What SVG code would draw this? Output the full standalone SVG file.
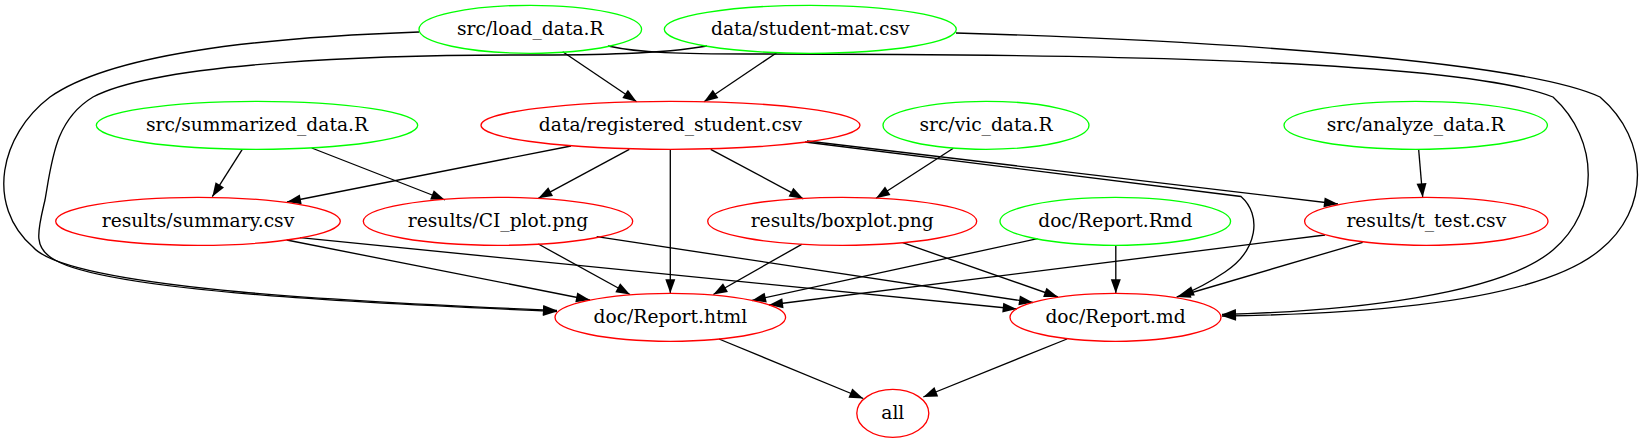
<svg xmlns="http://www.w3.org/2000/svg" width="1641" height="443" viewBox="0 0 1641 443">
<style>
.n ellipse{fill:none;stroke-width:1.33}
.g ellipse{stroke:#00ff00}
.r ellipse{stroke:#ff0000}
.n text{font-family:"DejaVu Serif",serif;font-size:18.67px;text-anchor:middle;fill:#000}
#edges path{fill:none;stroke:#000;stroke-width:1.33;marker-end:url(#arr)}
</style>
<defs>
<marker id="arr" markerWidth="16" markerHeight="12" refX="14" refY="5" orient="auto" markerUnits="userSpaceOnUse" overflow="visible">
<path d="M0,0 L14,5 L0,10 z" fill="#000"/>
</marker>
</defs>
<rect width="1641" height="443" fill="#fff"/>
<g id="edges">
<path d="M562.7,51.7 L636.7,101.7"/>
<path d="M776.7,52.7 L704,101.7"/>
<path d="M419,32 C250,38 110,55 50,97 C0,135 -15,205 33,247 C70,290 380,303 557,310.5"/>
<path d="M707,46 C660,54 600,55 520,55 C380,55 160,62 93,97 C55,120 52,160 45,200 C38,230 32,248 55,260 C110,292 380,304 557,311.5"/>
<path d="M608,46 C640,53 680,54 750,54 C1000,54 1450,56 1553,97 C1600,140 1600,210 1553,250 C1500,295 1350,311 1222,314.5"/>
<path d="M956,33 C1200,40 1520,60 1600,97 C1650,140 1650,210 1600,250 C1540,300 1380,314 1222,316"/>
<path d="M242.3,149.3 L212.3,196.7"/>
<path d="M311.7,148 L445,200"/>
<path d="M571,146 L287,202"/>
<path d="M629.3,149.3 L538.3,198.3"/>
<path d="M670.3,149.3 L670.3,293.3"/>
<path d="M710.7,149.3 L803.3,198.8"/>
<path d="M805,142 L1241,196.5 C1262,215 1258,250 1225,272 C1210,282 1195,290 1180,296"/>
<path d="M807,141 L1338,204"/>
<path d="M953.3,148.3 L876,198.3"/>
<path d="M1418.7,150 L1422.7,197.3"/>
<path d="M286.7,240 L590,300"/>
<path d="M300,237.7 L1016.7,309"/>
<path d="M538.3,244 L630,294.5"/>
<path d="M596.7,236.7 L1033,302.5"/>
<path d="M801.7,244.3 L713.3,294.5"/>
<path d="M902.7,242.7 L1058,297"/>
<path d="M1037.5,238.7 L752,300.5"/>
<path d="M1115.8,246 L1115.8,293.3"/>
<path d="M1325,235 L769,305"/>
<path d="M1362.7,242.3 L1176.7,297"/>
<path d="M719,339 L863.3,398.5"/>
<path d="M1067,339 L923.3,397"/>
</g>
<g id="load_data" class="n g"><ellipse cx="530.3" cy="29.3" rx="111.3" ry="24"/><text x="530.3" y="35">src/load_data.R</text></g>
<g id="student_mat" class="n g"><ellipse cx="810.3" cy="29.3" rx="146" ry="24"/><text x="810.3" y="35">data/student-mat.csv</text></g>
<g id="summarized_data" class="n g"><ellipse cx="257" cy="125.3" rx="160.7" ry="24"/><text x="257" y="131">src/summarized_data.R</text></g>
<g id="registered_student" class="n r"><ellipse cx="670.5" cy="125.3" rx="189.5" ry="24"/><text x="670.5" y="131">data/registered_student.csv</text></g>
<g id="vic_data" class="n g"><ellipse cx="986" cy="125.3" rx="103" ry="24"/><text x="986" y="131">src/vic_data.R</text></g>
<g id="analyze_data" class="n g"><ellipse cx="1415.7" cy="125.3" rx="131.7" ry="24"/><text x="1415.7" y="131">src/analyze_data.R</text></g>
<g id="summary" class="n r"><ellipse cx="198" cy="221.3" rx="142.3" ry="24"/><text x="198" y="227">results/summary.csv</text></g>
<g id="CI_plot" class="n r"><ellipse cx="498" cy="221.3" rx="134.7" ry="24"/><text x="498" y="227">results/CI_plot.png</text></g>
<g id="boxplot" class="n r"><ellipse cx="842.2" cy="221.3" rx="134.5" ry="24"/><text x="842.2" y="227">results/boxplot.png</text></g>
<g id="Report_Rmd" class="n g"><ellipse cx="1115.3" cy="221.3" rx="115.3" ry="24"/><text x="1115.3" y="227">doc/Report.Rmd</text></g>
<g id="t_test" class="n r"><ellipse cx="1426.3" cy="221.3" rx="121.7" ry="24"/><text x="1426.3" y="227">results/t_test.csv</text></g>
<g id="Report_html" class="n r"><ellipse cx="670.3" cy="317.3" rx="115.3" ry="24"/><text x="670.3" y="323">doc/Report.html</text></g>
<g id="Report_md" class="n r"><ellipse cx="1115.5" cy="317.3" rx="105.5" ry="24"/><text x="1115.5" y="323">doc/Report.md</text></g>
<g id="all" class="n r"><ellipse cx="892.8" cy="413.3" rx="36" ry="24"/><text x="892.8" y="419">all</text></g>
</svg>
